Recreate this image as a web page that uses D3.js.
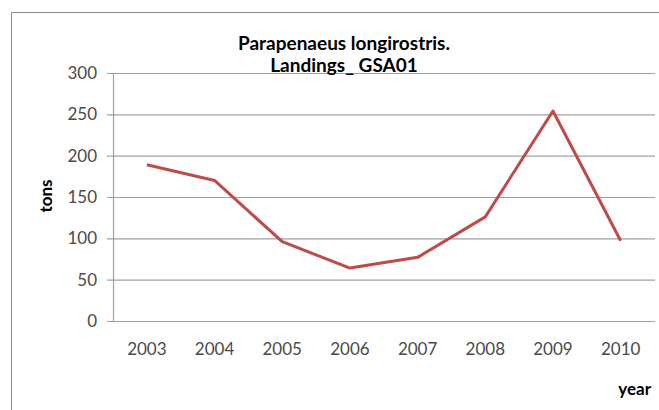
<!DOCTYPE html>
<html>
<head>
<meta charset="utf-8">
<script src="https://cdn.jsdelivr.net/npm/d3@7"></script>
<style>
  html, body { margin: 0; padding: 0; background: #fff; }
  svg { display: block; }
</style>
</head>
<body>
<script>
const years = ["2003", "2004", "2005", "2006", "2007", "2008", "2009", "2010"];
const landings = [189, 170, 96, 64, 77, 126, 254, 97];
const yTicks = [0, 50, 100, 150, 200, 250, 300];
const titleLines = ["Parapenaeus longirostris.", "Landings_ GSA01"];
const yLabel = "tons";
const xLabel = "year";

const W = 659, H = 410;
const font = "Lato, 'Open Sans', 'Liberation Sans', sans-serif";

const svg = d3.select("body").append("svg")
  .attr("width", W).attr("height", H);

svg.append("rect").attr("width", W).attr("height", H).attr("fill", "#fff");

// outer chart-area border (extends past the crop on right/bottom)
svg.append("path")
  .attr("d", "M11.5," + (H + 5) + "V12.5H" + (W + 5))
  .attr("fill", "none").attr("stroke", "#8c8c8c").attr("stroke-width", 1);

const plot = { left: 113, right: 654.5, top: 73, bottom: 321 };

const x = d3.scaleBand().domain(years).range([plot.left, plot.right]);
const y = d3.scaleLinear().domain([0, 300]).range([plot.bottom, plot.top]);

// gridlines with left tick stubs
const yAxis = d3.axisLeft(y).tickValues(yTicks)
  .tickSize(-(plot.right - plot.left) - 0.5).tickPadding(16);
const gy = svg.append("g").attr("transform", `translate(${plot.left},0)`).call(yAxis);
gy.select(".domain").remove();
gy.selectAll(".tick line")
  .attr("x1", -6)
  .attr("stroke", "#a0a0a0").attr("stroke-width", 1.2);
gy.selectAll(".tick text")
  .attr("font-family", font).attr("font-size", 17).attr("fill", "#4a4a4a");

// vertical axis line
svg.append("line")
  .attr("x1", plot.left + 0.5).attr("x2", plot.left + 0.5)
  .attr("y1", y(300)).attr("y2", y(0))
  .attr("stroke", "#a0a0a0").attr("stroke-width", 1.2);

// x category labels
const xAxis = d3.axisBottom(x).tickSize(0).tickPadding(0);
const gx = svg.append("g").attr("transform", `translate(0,${plot.bottom})`).call(xAxis);
gx.select(".domain").remove();
gx.selectAll(".tick text")
  .attr("font-family", font).attr("font-size", 17).attr("fill", "#4a4a4a")
  .attr("dy", null).attr("y", 34);

// data line
const line = d3.line()
  .x((d, i) => x(years[i]) + x.bandwidth() / 2)
  .y(d => y(d));
svg.append("path")
  .datum(landings)
  .attr("d", line)
  .attr("fill", "none")
  .attr("stroke", "#be4b48")
  .attr("stroke-width", 3)
  .attr("stroke-linejoin", "round");

// title
const title = svg.append("text")
  .attr("font-family", font).attr("font-size", 19).attr("font-weight", "bold")
  .attr("fill", "#000").attr("text-anchor", "middle");
titleLines.forEach((t, i) => {
  title.append("tspan").attr("x", 344).attr("y", 50 + i * 22).text(t);
});

// axis titles
svg.append("text")
  .attr("transform", "translate(52,196) rotate(-90)")
  .attr("text-anchor", "middle")
  .attr("font-family", font).attr("font-size", 17).attr("font-weight", "bold")
  .attr("fill", "#000").text(yLabel);

svg.append("text")
  .attr("x", 651).attr("y", 395)
  .attr("text-anchor", "end")
  .attr("font-family", font).attr("font-size", 17).attr("font-weight", "bold")
  .attr("fill", "#000").text(xLabel);
</script>
</body>
</html>
